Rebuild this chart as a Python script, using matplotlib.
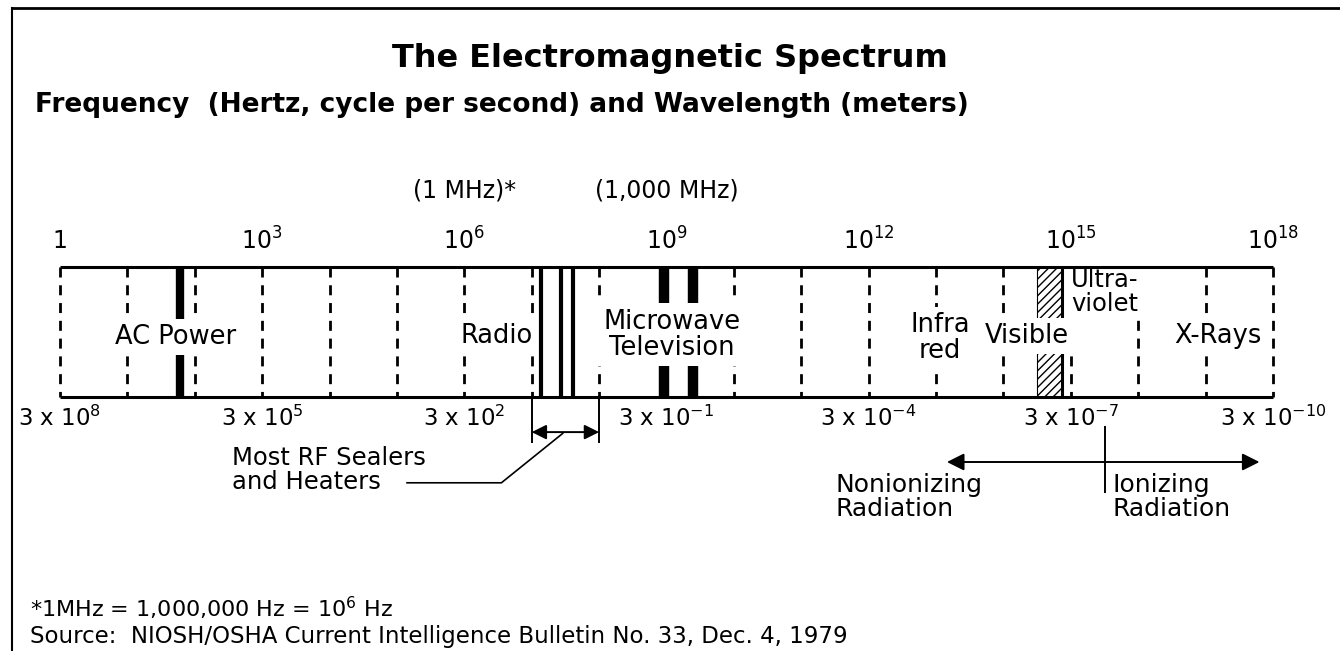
import matplotlib
matplotlib.use("Agg")
import matplotlib.pyplot as plt
import numpy as np
from matplotlib.lines import Line2D
from matplotlib.patches import Rectangle

plt.rcParams["font.family"] = ["DejaVu Sans"]
plt.rcParams["mathtext.fontset"] = "dejavusans"
plt.rcParams["hatch.linewidth"] = 1.0

# decades of frequency drawn on the band (log10 Hz)
decades = np.arange(0, 19)
major_exp = [0, 3, 6, 9, 12, 15, 18]
freq_labels = ["1", "$10^{3}$", "$10^{6}$", "$10^{9}$", "$10^{12}$", "$10^{15}$", "$10^{18}$"]
wave_labels = ["3 x 10$^{8}$", "3 x 10$^{5}$", "3 x 10$^{2}$", "3 x 10$^{-1}$",
               "3 x 10$^{-4}$", "3 x 10$^{-7}$", "3 x 10$^{-10}$"]
mhz_note_exp = [6, 9]
mhz_notes = ["(1 MHz)*", "(1,000 MHz)"]

ac_power_hz = 60
rf_sealer_mhz = [13.56, 27.12, 40.68]
rf_bracket_hz = [1e7, 1e8]
microwave_mhz = [915, 2450]
visible_hz = [3.2e14, 7.5e14]
ionizing_hz = 3.2e15
radiation_arrow_hz = [1.45e13, 6.3e17]

band_names = ["AC Power", "Radio", "Microwave\nTelevision", "Infra\nred",
              "Visible", "Ultra-\nviolet", "X-Rays"]
band_name_hz = [52, 3.0e6, 1.2e9, 1.15e13, 2.2e14, 3.2e15, 1.5e17]
band_name_y = [0.46, 0.47, 0.48, 0.45, 0.47, 0.81, 0.47]

W, H = 1340, 651
fig = plt.figure(figsize=(W / 100, H / 100), dpi=100)
ax = fig.add_axes([0, 0, 1, 1])
ppd = (1273 - 60) / 18.0
ax.set_xlim(-60 / ppd, (W - 60) / ppd)
ax.set_ylim(-(H - 397) / 130.0, 1 + 267 / 130.0)
ax.axis("off")

# frame
fig.add_artist(Line2D([12 / W, 1], [1 - 8 / H] * 2, color="k", lw=2))
fig.add_artist(Line2D([12 / W] * 2, [0, 1 - 8 / H], color="k", lw=1.5))

# titles
fig.text(0.5, 1 - 58 / H, "The Electromagnetic Spectrum", ha="center", va="center",
         fontsize=23, fontweight="bold")
fig.text(35 / W, 1 - 105 / H, "Frequency  (Hertz, cycle per second) and Wavelength (meters)",
         ha="left", va="center", fontsize=19, fontweight="bold")

# band frame: solid top/bottom, dashed decade lines
ax.hlines([0, 1], 0, 18, color="k", lw=2.2, zorder=5)
for d in decades:
    ax.plot([d, d], [1, 0], color="k", lw=2, linestyle=(0, (3.6, 2.8)), zorder=1)

# emitters
ax.vlines(np.log10(ac_power_hz), 0, 1, color="k", lw=6, zorder=2)
ax.vlines(np.log10(np.array(rf_sealer_mhz) * 1e6), 0, 1, color="k", lw=3, zorder=6)
ax.vlines(np.log10(np.array(microwave_mhz) * 1e6), 0, 1, color="k", lw=7.5, zorder=2)
vis = np.log10(visible_hz)
ax.add_patch(Rectangle((vis[0], 0), vis[1] - vis[0], 1, fill=False, hatch="////",
                       edgecolor="k", lw=0.8, zorder=2))
ax.vlines(vis[1], 0, 1, color="k", lw=2.2, zorder=2)

# band names
for name, hz, y in zip(band_names, band_name_hz, band_name_y):
    small = name.startswith("Ultra")
    pad = 0.05 if small else 0.2
    ax.text(np.log10(hz), y, name, ha="center", va="center",
            fontsize=17.5 if small else 18.5, linespacing=1.0, zorder=4,
            bbox=dict(boxstyle=f"square,pad={pad}", fc="white", ec="none"))

# frequency and wavelength labels
for e, lab in zip(major_exp, freq_labels):
    ax.text(e, 1.2, lab, ha="center", va="center", fontsize=17)
for e, lab in zip(major_exp, wave_labels):
    ax.text(e, -0.16, lab, ha="center", va="center", fontsize=16.5)
for e, lab in zip(mhz_note_exp, mhz_notes):
    ax.text(e, 1.59, lab, ha="center", va="center", fontsize=17)

# RF sealer bracket
rb = np.log10(rf_bracket_hz)
ax.vlines(rb, -0.35, 0, color="k", lw=1.4)
ax.annotate("", xy=(rb[0], -0.27), xytext=(rb[1], -0.27),
            arrowprops=dict(arrowstyle="<|-|>", color="k", lw=1.4,
                            mutation_scale=22, shrinkA=0, shrinkB=0))
mid = rb.mean()
ax.plot([mid - 0.04, mid - 0.95, mid - 2.35], [-0.28, -0.66, -0.66], color="k", lw=1.2)
ax.text(2.55, -0.56, "Most RF Sealers\nand Heaters", ha="left", va="center",
        fontsize=17.5, linespacing=1.0)

# nonionizing / ionizing
ra = np.log10(radiation_arrow_hz)
ion = np.log10(ionizing_hz)
ax.annotate("", xy=(ra[0], -0.50), xytext=(ra[1], -0.50),
            arrowprops=dict(arrowstyle="<|-|>", color="k", lw=1.4,
                            mutation_scale=26, shrinkA=0, shrinkB=0))
ax.vlines(ion, -0.74, -0.22, color="k", lw=1.4)
ax.text(ion - 4.0, -0.77, "Nonionizing\nRadiation", ha="left", va="center",
        fontsize=18, linespacing=1.0)
ax.text(ion + 0.12, -0.77, "Ionizing\nRadiation", ha="left", va="center",
        fontsize=18, linespacing=1.0)

# footnotes
fig.text(30 / W, 1 - 608 / H, "*1MHz = 1,000,000 Hz = 10$^{6}$ Hz", ha="left",
         va="center", fontsize=16)
fig.text(30 / W, 1 - 637 / H,
         "Source:  NIOSH/OSHA Current Intelligence Bulletin No. 33, Dec. 4, 1979",
         ha="left", va="center", fontsize=16.5)

fig.savefig("out.png", dpi=100)
